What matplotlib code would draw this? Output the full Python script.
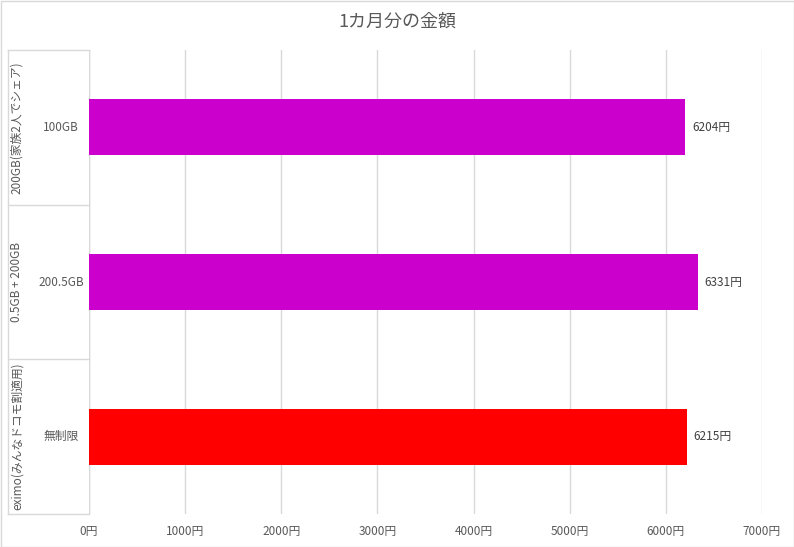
import matplotlib
matplotlib.use('Agg')
import matplotlib.pyplot as plt

plt.rcParams['font.family'] = ['Noto Sans CJK JP', 'DejaVu Sans']

# data
plans = ['100GB', '200.5GB', '無制限']
groups = ['200GB(家族2人でシェア)', '0.5GB + 200GB', 'eximo(みんなドコモ割適用)']
prices = [6204, 6331, 6215]
colors = ['#CC00CC', '#CC00CC', '#FF0000']
xticks = [0, 1000, 2000, 3000, 4000, 5000, 6000, 7000]

W, H = 794, 547
fig = plt.figure(figsize=(W / 100, H / 100), dpi=100)
fig.patches.append(plt.Rectangle((0.5 / W, 0.5 / H), 1 - 1 / W, 1 - 1 / H,
                                 transform=fig.transFigure, fill=False,
                                 edgecolor='#D9D9D9', lw=1))

left, right, top, bottom = 89, 762, 50, 514
ax = fig.add_axes([left / W, 1 - bottom / H, (right - left) / W, (bottom - top) / H])

ypos = list(range(len(prices)))
ax.barh(ypos, prices, height=0.36, color=colors, zorder=3)
ax.set_xlim(0, 7000)
ax.set_ylim(2.5, -0.5)

ax.set_xticks(xticks)
ax.set_xticklabels([f'{v}円' for v in xticks], fontsize=8.5, color='#595959')
ax.tick_params(axis='x', length=0, pad=8)
ax.set_yticks([])
ax.grid(axis='x', color='#D9D9D9', lw=1, zorder=0)
for s in ax.spines.values():
    s.set_visible(False)
ax.axvline(0, color='#D9D9D9', lw=1, zorder=1)

for y, v in zip(ypos, prices):
    ax.text(v + 70, y, f'{v}円', va='center', ha='left', fontsize=8.5, color='#404040')

# category label area on the left
trans = ax.get_yaxis_transform()
def px(x):
    return (x - left) / (right - left)

for b in [-0.5, 0.5, 1.5, 2.5]:
    ax.plot([px(8), 0], [b, b], transform=trans, color='#D9D9D9', lw=1, clip_on=False)
ax.plot([px(8), px(8)], [-0.5, 2.5], transform=trans, color='#D9D9D9', lw=1, clip_on=False)

for y, p, g in zip(ypos, plans, groups):
    ax.text(px(61), y, p, transform=trans, ha='center', va='center',
            fontsize=8.5, color='#595959')
    ax.text(px(17), y, g, transform=trans, ha='center', va='center', rotation=90,
            fontsize=8.5, color='#595959')

fig.suptitle('1カ月分の金額', y=1 - 22 / H, va='center', fontsize=13, color='#595959')

fig.savefig('out.png', dpi=100)
